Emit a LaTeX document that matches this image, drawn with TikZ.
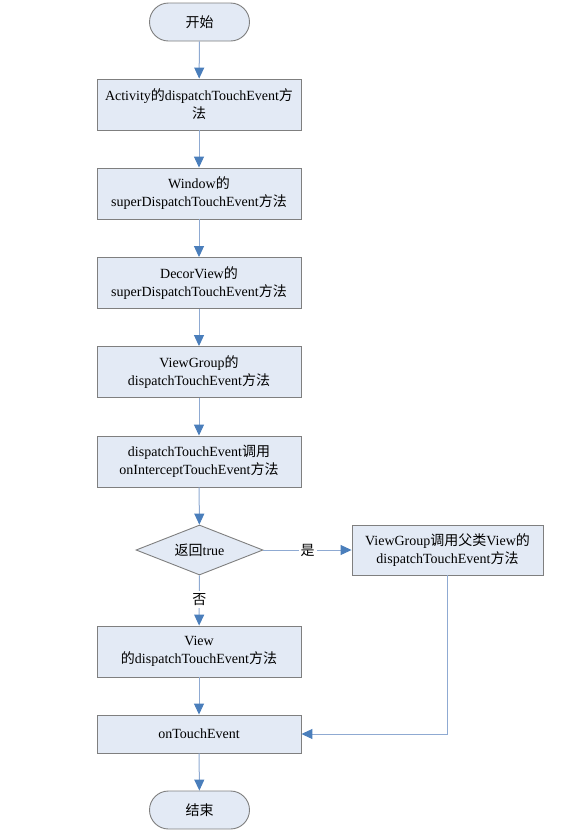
\documentclass[tikz,border=0pt]{standalone}
\usepackage{fontspec}
\setmainfont{Liberation Serif}
\newfontfamily\cjk{Noto Sans CJK SC}
\newcommand{\zh}[1]{{\cjk #1}}
\usetikzlibrary{shapes.geometric,arrows.meta}
\definecolor{boxfill}{HTML}{E3EAF5}
\definecolor{boxline}{HTML}{7F7F7F}
\definecolor{flowline}{HTML}{8FAAD2}
\definecolor{flowtip}{HTML}{4A7EBB}

\begin{document}
\begin{tikzpicture}[x=1pt,y=-1pt]
  \useasboundingbox (0,0) rectangle (561,831);
  % Define node and connector styles
  \tikzset{stepbox/.style={draw=boxline, fill=boxfill, line width=0.9pt, minimum width=204pt, minimum height=51pt, inner sep=2pt, align=center, font=\fontsize{14}{18}\selectfont}}
  \tikzset{terminal/.style={draw=boxline, fill=boxfill, line width=0.9pt, rounded corners=19pt, minimum width=100pt, minimum height=38pt, font=\fontsize{14}{18}\selectfont}}
  \tikzset{decision/.style={diamond, aspect=2.5, draw=boxline, fill=boxfill, line width=0.9pt, minimum width=127pt, minimum height=50pt, inner sep=0pt, font=\fontsize{14}{18}\selectfont}}
  \tikzset{flow/.style={draw=flowline, line width=1pt, -{Triangle[width=10pt,length=11pt,color=flowtip]}}}
  % The main column
  \node[terminal] (start) at (199.5,22) {\zh{开始}};
  \node[stepbox] (activity) at (199,104.5) {Activity\zh{的}dispatchTouchEvent\zh{方}\\\zh{法}};
  \node[stepbox] (window) at (199,193.5) {Window\zh{的}\\superDispatchTouchEvent\zh{方法}};
  \node[stepbox] (decor) at (199,283) {DecorView\zh{的}\\superDispatchTouchEvent\zh{方法}};
  \node[stepbox] (group) at (199,372) {ViewGroup\zh{的}\\dispatchTouchEvent\zh{方法}};
  \node[stepbox] (intercept) at (199,461.5) {dispatchTouchEvent\zh{调用}\\onInterceptTouchEvent\zh{方法}};
  \node[decision] (check) at (199.5,550) {\zh{返回}true};
  \node[stepbox] (view) at (199,651.5) {View\\\zh{的}dispatchTouchEvent\zh{方法}};
  \node[stepbox, minimum height=38pt] (touch) at (199,734) {onTouchEvent};
  \node[terminal] (stop) at (199.5,810) {\zh{结束}};
  % The branch on the right
  \node[stepbox, minimum width=191pt, minimum height=50pt] (parent) at (447.5,550) {ViewGroup\zh{调用父类}View\zh{的}\\dispatchTouchEvent\zh{方法}};
  % Connectors
  \draw[flow] (start) -- (activity);
  \draw[flow] (activity) -- (window);
  \draw[flow] (window) -- (decor);
  \draw[flow] (decor) -- (group);
  \draw[flow] (group) -- (intercept);
  \draw[flow] (intercept) -- (check);
  \draw[flow] (check) -- node[fill=white, inner sep=2pt, font=\fontsize{14}{18}\selectfont] {\zh{是}} (parent);
  \draw[flow] (check) -- node[fill=white, inner sep=2pt, pos=0.48, font=\fontsize{14}{18}\selectfont] {\zh{否}} (view);
  \draw[flow] (view) -- (touch);
  \draw[flow] (parent.south) |- (touch.east);
  \draw[flow] (touch) -- (stop);
\end{tikzpicture}
\end{document}
